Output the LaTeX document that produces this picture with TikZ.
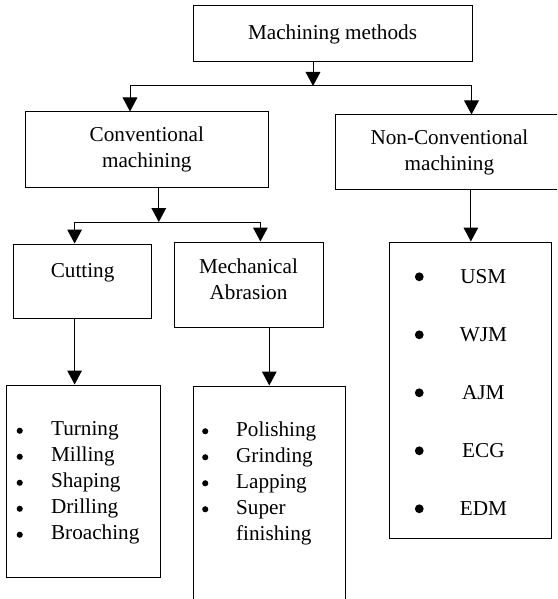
\documentclass[tikz,border=0pt]{standalone}
\usepackage{fontspec}
\setmainfont{Liberation Serif}
\usetikzlibrary{arrows.meta}
\newcommand{\smalldot}{\tikz[baseline=-3.7pt]\fill (0,0) circle (2.3pt);}
\newcommand{\bigdot}{\tikz[baseline=-4.8pt]\fill (0,0) circle (3.3pt);}

\begin{document}
\begin{tikzpicture}[x=0.75pt,y=0.75pt,yscale=-1,xscale=1,
  box/.style={draw,line width=0.75pt,inner sep=0pt,align=center,font=\fontsize{15.9}{19.5}\selectfont},
  lst/.style={inner sep=0pt,anchor=west,font=\fontsize{15.9}{19.5}\selectfont},
  arr/.style={line width=0.75pt,-{Triangle[width=11pt,length=10.5pt]}},
  ln/.style={line width=0.75pt}]
\clip (0,0) rectangle (557,599);

%Shape: Rectangle [top]
\node[box,minimum width=209.25pt,minimum height=42pt] (mm) at (332.5,34) {Machining methods};
%Shape: Rectangle [conventional]
\node[box,minimum width=182.7pt,minimum height=56.25pt] (conv) at (146.8,149.5) {Conventional\\machining};
%Shape: Rectangle [non-conventional]
\node[box,minimum width=170.5pt,minimum height=55.5pt] (ncm) at (449.4,152) {Non-Conventional\\machining};
%Shape: Rectangle [cutting]
\node[box,minimum width=103.65pt,minimum height=55.5pt] (cut) at (82.6,281) {Cutting\\[-3pt]\mbox{}};
%Shape: Rectangle [abrasion]
\node[box,minimum width=111.75pt,minimum height=63.75pt] (mech) at (248.5,284.5) {Mechanical\\Abrasion\\[-12pt]\mbox{}};

%Shape: Rectangle [lists]
\node[box,minimum width=115.2pt,minimum height=144pt] (cutl) at (83.2,481) {};
\node[box,minimum width=114.45pt,minimum height=171.75pt] (mechl) at (269.3,500.5) {};
\node[box,minimum width=121.7pt,minimum height=222pt] (ncl) at (470.85,390) {};

% Text Node
\node[lst] (cuttxt) at (16.4,482.5) {\begin{tabular}{@{}l@{\hspace{21.2pt}}l@{}}
\smalldot & Turning\\
\smalldot & Milling\\
\smalldot & Shaping\\
\smalldot & Drilling\\
\smalldot & Broaching
\end{tabular}};
% Text Node
\node[lst] (mechtxt) at (201.9,483) {\begin{tabular}{@{}l@{\hspace{20.9pt}}l@{}}
\smalldot & Polishing\\
\smalldot & Grinding\\
\smalldot & Lapping\\
\smalldot & Super\\
 & finishing
\end{tabular}};
% Text Node
\node[lst] (nctxt) at (414.6,394) {\begin{tabular}{@{}l@{\hspace{27.1pt}}c@{}}
\bigdot & USM\\[24pt]
\bigdot & WJM\\[24pt]
\bigdot & AJM\\[24pt]
\bigdot & ECG\\[24pt]
\bigdot & EDM
\end{tabular}};

%Straight Lines [first level]
\coordinate (j0) at (313,86);
\coordinate (jl) at (130,86);
\coordinate (jr) at (471.5,86);
\draw[arr] (j0 |- mm.south) -- (j0);
\draw[ln] (jl) -- (jr);
\draw[arr] (jl) -- (jl |- conv.north);
\draw[arr] (jr) -- (jr |- ncm.north);

%Straight Lines [second level]
\coordinate (j1) at (158.8,222);
\coordinate (j1l) at (74.6,222);
\coordinate (j1r) at (260.4,222);
\draw[arr] (j1 |- conv.south) -- (j1);
\draw[ln] (j1l) -- (j1r);
\draw[arr] (j1l) -- (j1l |- cut.north);
\draw[arr] (j1r) -- (j1r |- mech.north);

%Straight Lines [to lists]
\draw[arr] (cut.south -| j1l) -- (cutl.north -| j1l);
\draw[arr] (mech.south -| mechl.north) -- (mechl.north);
\draw[arr] (ncm.south -| ncl.north) -- (ncl.north);

\end{tikzpicture}
\end{document}
